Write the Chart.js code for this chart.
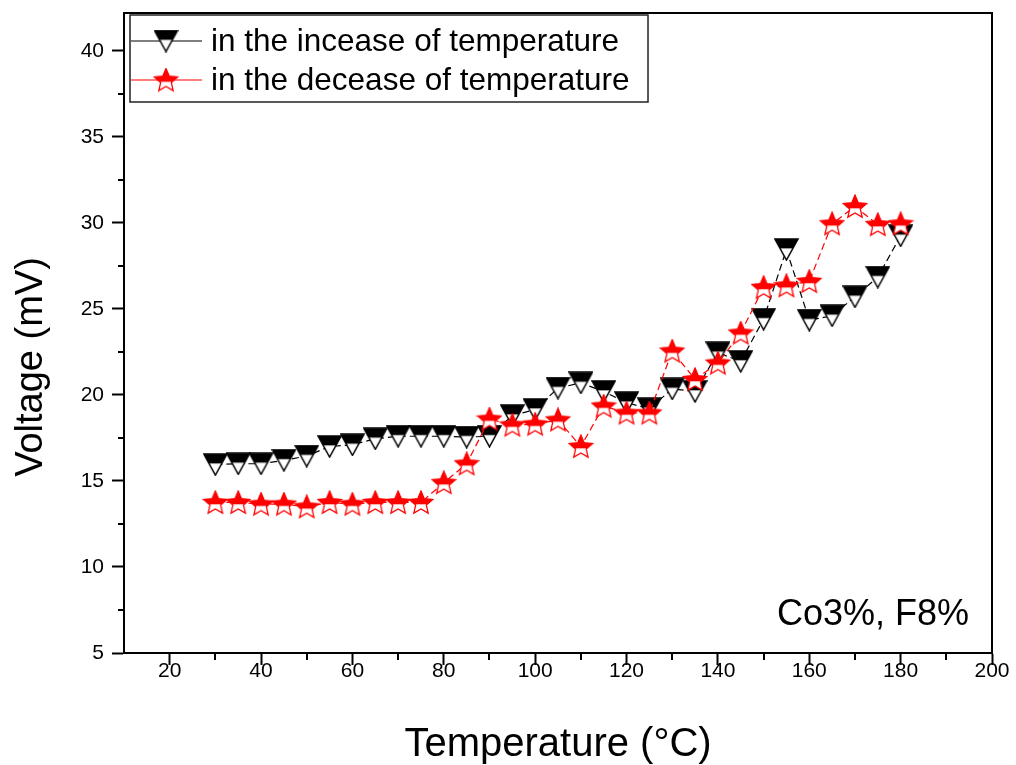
<!DOCTYPE html>
<html>
<head>
<meta charset="utf-8">
<title>Voltage vs Temperature</title>
<script src="https://cdn.jsdelivr.net/npm/chart.js@4.4.1/dist/chart.umd.min.js"></script>
<style>
    html, body { margin: 0; padding: 0; background: #fff; }
    #wrap { width: 1016px; height: 765px; }
</style>
</head>
<body>
<div id="wrap"><canvas id="voltChart" width="1016" height="765"></canvas></div>
<script>
// data
const temperatures = [30, 35, 40, 45, 50, 55, 60, 65, 70, 75, 80, 85, 90, 95, 100, 105,
    110, 115, 120, 125, 130, 135, 140, 145, 150, 155, 160, 165, 170, 175, 180];
const increaseVoltage = [15.95, 16.0, 16.0, 16.2, 16.45, 17.0, 17.1, 17.45, 17.6, 17.6, 17.6, 17.55, 17.6, 18.8, 19.15, 20.4,
    20.7, 20.2, 19.55, 19.2, 20.35, 20.2, 22.45, 21.95, 24.4, 28.45, 24.35, 24.6, 25.7, 26.85, 29.25];
const decreaseVoltage = [13.75, 13.75, 13.65, 13.65, 13.5, 13.75, 13.65, 13.75, 13.75, 13.75, 14.9, 16.0, 18.6, 18.25, 18.3, 18.55,
    17.0, 19.35, 18.95, 18.95, 22.55, 20.9, 21.85, 23.6, 26.25, 26.35, 26.6, 29.95, 30.95, 29.9, 29.95];

const seriesLabels = ["in the incease of temperature", "in the decease of temperature"];
const xTicks = [20, 40, 60, 80, 100, 120, 140, 160, 180, 200];
const xMinorTicks = [30, 50, 70, 90, 110, 130, 150, 170, 190];
const yTicks = [5, 10, 15, 20, 25, 30, 35, 40];
const yMinorTicks = [7.5, 12.5, 17.5, 22.5, 27.5, 32.5, 37.5];
const sampleNote = "Co3%, F8%";
const xTitle = "Temperature (°C)";
const yTitle = "Voltage (mV)";

const FONT = "'Liberation Sans', Arial, sans-serif";

// half-filled down triangle, like the Origin symbol
function makeTriangle() {
    const w = 25, h = 23;
    const c = document.createElement("canvas");
    c.width = w; c.height = h;
    const g = c.getContext("2d");
    g.beginPath();
    g.moveTo(1, 1); g.lineTo(w - 1, 1); g.lineTo(w / 2, h - 1); g.closePath();
    g.fillStyle = "#fff"; g.fill();
    g.save(); g.clip();
    g.fillStyle = "#000"; g.fillRect(0, 0, w, h * 0.45);
    g.restore();
    g.lineWidth = 1.5; g.strokeStyle = "#000"; g.stroke();
    return c;
}

// half-filled star
function makeStar() {
    const w = 26, h = 25, R = 12.2, r = 5.6, cx = 13, cy = 13.3;
    const c = document.createElement("canvas");
    c.width = w; c.height = h;
    const g = c.getContext("2d");
    g.beginPath();
    for (let i = 0; i < 10; i++) {
        const a = -Math.PI / 2 + i * Math.PI / 5;
        const rad = i % 2 ? r : R;
        const px = cx + rad * Math.cos(a), py = cy + rad * Math.sin(a);
        if (i === 0) g.moveTo(px, py); else g.lineTo(px, py);
    }
    g.closePath();
    g.fillStyle = "#fff"; g.fill();
    g.save(); g.clip();
    g.fillStyle = "#f00"; g.fillRect(0, 0, w, cy + 1);
    g.restore();
    g.lineWidth = 1.3; g.strokeStyle = "#f00"; g.stroke();
    return c;
}

const triangleImg = makeTriangle();
const starImg = makeStar();

const framePlugin = {
    id: "frame",
    afterDraw(chart) {
        const ctx = chart.ctx;
        const area = chart.chartArea;
        const xs = chart.scales.x, ys = chart.scales.y;
        ctx.save();
        ctx.strokeStyle = "#000";
        ctx.lineWidth = 2;
        // top and right edges of the box
        ctx.beginPath();
        ctx.moveTo(area.left, area.top); ctx.lineTo(area.right, area.top);
        ctx.lineTo(area.right, area.bottom);
        ctx.stroke();
        // minor ticks
        ctx.beginPath();
        xMinorTicks.forEach(v => {
            const px = Math.round(xs.getPixelForValue(v));
            ctx.moveTo(px, area.bottom); ctx.lineTo(px, area.bottom + 7);
        });
        yMinorTicks.forEach(v => {
            const py = Math.round(ys.getPixelForValue(v));
            ctx.moveTo(area.left, py); ctx.lineTo(area.left - 6, py);
        });
        ctx.stroke();

        // axis titles
        ctx.fillStyle = "#000";
        ctx.font = "40px " + FONT;
        ctx.textAlign = "center";
        ctx.textBaseline = "alphabetic";
        ctx.fillText(xTitle, (area.left + area.right) / 2, 756);
        ctx.save();
        ctx.translate(42, 367);
        ctx.rotate(-Math.PI / 2);
        ctx.font = "38px " + FONT;
        ctx.fillText(yTitle, 0, 0);
        ctx.restore();

        // note in the corner
        ctx.font = "36px " + FONT;
        ctx.textAlign = "right";
        ctx.fillText(sampleNote, 969, 625);

        // legend box
        const bx = 130, by = 15, bw = 518, bh = 87;
        ctx.fillStyle = "#fff";
        ctx.fillRect(bx, by, bw, bh);
        ctx.lineWidth = 1.5;
        ctx.strokeStyle = "#222";
        ctx.strokeRect(bx, by, bw, bh);
        const rows = [
            { y: 41, color: "#000", img: triangleImg, text: seriesLabels[0] },
            { y: 80, color: "#f00", img: starImg, text: seriesLabels[1] }
        ];
        rows.forEach(row => {
            ctx.strokeStyle = row.color;
            ctx.lineWidth = 1.2;
            ctx.beginPath();
            ctx.moveTo(131, row.y); ctx.lineTo(202, row.y);
            ctx.stroke();
            ctx.drawImage(row.img, 166 - row.img.width / 2, row.y - row.img.height / 2);
            ctx.fillStyle = "#000";
            ctx.font = "31.5px " + FONT;
            ctx.textAlign = "left";
            ctx.textBaseline = "middle";
            ctx.fillText(row.text, 211, row.y + 1);
        });
        ctx.restore();
    }
};

document.addEventListener("DOMContentLoaded", () => {
    Chart.defaults.font.family = FONT;
    Chart.defaults.color = "#000";

    const ctx = document.getElementById("voltChart").getContext("2d");
    new Chart(ctx, {
        type: "scatter",
        data: {
            datasets: [
                {
                    label: seriesLabels[0],
                    data: temperatures.map((t, i) => ({ x: t, y: increaseVoltage[i] })),
                    showLine: true,
                    borderColor: "#000",
                    borderWidth: 1.2,
                    borderDash: [7, 4],
                    pointStyle: triangleImg,
                    order: 2
                },
                {
                    label: seriesLabels[1],
                    data: temperatures.map((t, i) => ({ x: t, y: decreaseVoltage[i] })),
                    showLine: true,
                    borderColor: "#f00",
                    borderWidth: 1.2,
                    borderDash: [7, 4],
                    pointStyle: starImg,
                    order: 1
                }
            ]
        },
        options: {
            responsive: false,
            animation: false,
            devicePixelRatio: 1,
            events: [],
            layout: { padding: { top: 13, right: 24, left: 0, bottom: 0 } },
            plugins: {
                legend: { display: false },
                tooltip: { enabled: false }
            },
            scales: {
                x: {
                    type: "linear",
                    min: 10,
                    max: 200,
                    afterBuildTicks: s => { s.ticks = xTicks.map(v => ({ value: v })); },
                    afterFit: s => { s.height = 112; s.paddingLeft = 0; s.paddingRight = 0; },
                    border: { color: "#000", width: 2 },
                    grid: { drawOnChartArea: false, drawTicks: true, tickLength: 12, tickWidth: 2, tickColor: "#000" },
                    ticks: { font: { size: 21 }, padding: -6, maxRotation: 0, autoSkip: false }
                },
                y: {
                    type: "linear",
                    min: 5,
                    max: 42.2,
                    afterBuildTicks: s => { s.ticks = yTicks.map(v => ({ value: v })); },
                    afterFit: s => { s.width = 124; s.paddingTop = 0; s.paddingBottom = 0; },
                    border: { color: "#000", width: 2 },
                    grid: { drawOnChartArea: false, drawTicks: true, tickLength: 12, tickWidth: 2, tickColor: "#000" },
                    ticks: { font: { size: 21 }, padding: 8, autoSkip: false }
                }
            }
        },
        plugins: [framePlugin]
    });
});
</script>
</body>
</html>
